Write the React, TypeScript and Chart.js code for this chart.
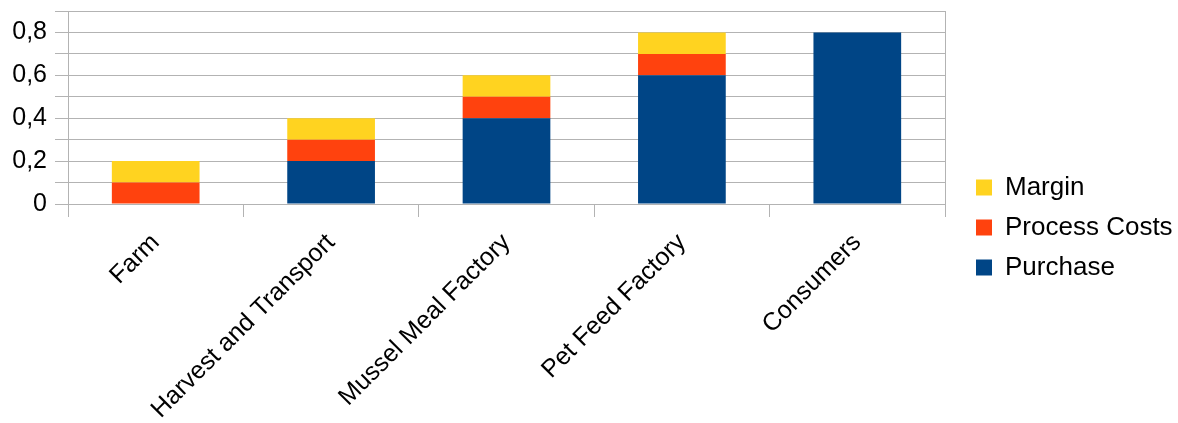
import React, { useEffect, useRef } from 'react';
import { Chart, registerables } from 'chart.js';

Chart.register(...registerables);

const categories = ['Farm', 'Harvest and Transport', 'Mussel Meal Factory', 'Pet Feed Factory', 'Consumers'];
const purchase = [0, 0.2, 0.4, 0.6, 0.8];
const processCosts = [0.1, 0.1, 0.1, 0.1, 0];
const margin = [0.1, 0.1, 0.1, 0.1, 0];
const yTickLabels = ['0', '', '0,2', '', '0,4', '', '0,6', '', '0,8', ''];

const GRID = '#b3b3b3';
const FONT = 'Liberation Sans, Arial, sans-serif';

const legendPlacer = {
  id: 'legendPlacer',
  afterLayout(chart: any) {
    const l = chart.legend;
    if (!l) return;
    l.left = 962;
    l.right = 1178;
  },
};

export default function App() {
  const ref = useRef<HTMLCanvasElement | null>(null);

  useEffect(() => {
    if (!ref.current) return;
    const chart = new Chart(ref.current, {
      type: 'bar',
      data: {
        labels: categories,
        datasets: [
          { label: 'Purchase', data: purchase, backgroundColor: '#004586', stack: 's' },
          { label: 'Process Costs', data: processCosts, backgroundColor: '#ff420e', stack: 's' },
          { label: 'Margin', data: margin, backgroundColor: '#ffd320', stack: 's' },
        ],
      },
      plugins: [legendPlacer],
      options: {
        animation: false,
        responsive: true,
        maintainAspectRatio: false,
        layout: { padding: 0 },
        datasets: { bar: { categoryPercentage: 1, barPercentage: 0.5, borderWidth: 0 } },
        plugins: {
          tooltip: { enabled: false },
          legend: {
            position: 'right',
            reverse: true,
            title: { display: true, text: '', font: { size: 10, lineHeight: '12px' }, padding: { top: 0, bottom: 20 } },
            labels: {
              boxWidth: 16,
              boxHeight: 16,
              padding: 14,
              color: '#000',
              font: { family: FONT, size: 26 },
            },
          },
        },
        scales: {
          x: {
            stacked: true,
            grid: { display: true, drawOnChartArea: false, drawTicks: true, tickLength: 13, color: GRID, offset: true },
            border: { display: true, color: GRID },
            ticks: {
              autoSkip: false,
              minRotation: 45,
              maxRotation: 45,
              padding: 11,
              color: '#000',
              font: { family: FONT, size: 25 },
            },
            afterFit: (s: any) => { s.height = 423 - 204; },
          },
          y: {
            stacked: true,
            min: 0,
            max: 0.9,
            grid: { color: GRID, tickLength: 13, drawTicks: true },
            border: { display: true, color: GRID },
            ticks: {
              stepSize: 0.1,
              padding: 8,
              color: '#000',
              font: { family: FONT, size: 25, lineHeight: '6px' },
              callback: (_v: any, i: number) => yTickLabels[i] ?? '',
            },
            afterFit: (s: any) => { s.width = 68; },
          },
          yRight: {
            position: 'right',
            min: 0,
            max: 0.9,
            grid: { display: false, drawOnChartArea: false, drawTicks: false },
            border: { display: true, color: GRID },
            ticks: { display: false },
            afterFit: (s: any) => {
              const lw = s.chart.legend ? s.chart.legend.width : 0;
              s.width = Math.max(0, 1178 - 945 - lw);
            },
          },
        },
      },
    });
    return () => chart.destroy();
  }, []);

  return (
    <div style={{ position: 'fixed', left: 0, top: 0, width: 1178, height: 423, background: '#fff' }}>
      <canvas ref={ref} />
    </div>
  );
}
